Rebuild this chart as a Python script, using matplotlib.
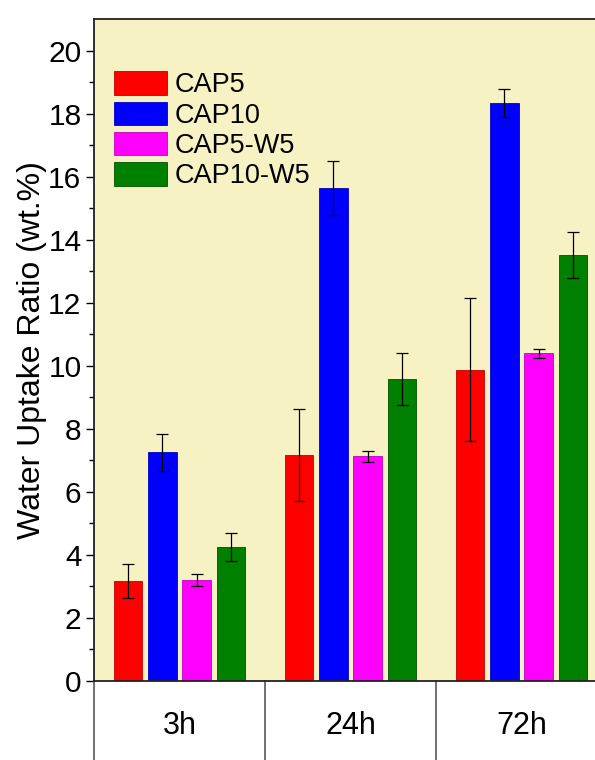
import numpy as np
import matplotlib
matplotlib.use("Agg")
import matplotlib.pyplot as plt
import matplotlib.transforms as mtransforms

plt.rcParams['font.family'] = ['Liberation Sans', 'DejaVu Sans']

# data
times = ["3h", "24h", "72h"]
series = ["CAP5", "CAP10", "CAP5-W5", "CAP10-W5"]
colors = ["#FF0000", "#0000FF", "#FF00FF", "#008000"]
edges = ["#C00000", "#0000C0", "#C000C0", "#005000"]
cap5 = [3.17, 7.17, 9.88]
cap10 = [7.25, 15.64, 18.34]
cap5_w5 = [3.21, 7.13, 10.39]
cap10_w5 = [4.25, 9.58, 13.51]
cap5_err = [0.54, 1.45, 2.27]
cap10_err = [0.58, 0.85, 0.44]
cap5_w5_err = [0.2, 0.17, 0.13]
cap10_w5_err = [0.45, 0.83, 0.73]

values = [cap5, cap10, cap5_w5, cap10_w5]
errors = [cap5_err, cap10_err, cap5_w5_err, cap10_w5_err]

fig = plt.figure(figsize=(5.95, 7.6), dpi=100)
ax = fig.add_axes([94 / 595, 79 / 760, 513 / 595, 662 / 760])
ax.set_facecolor("#F6F2C3")

x = np.arange(len(times))
width = 0.165
offsets = [-0.3, -0.1, 0.1, 0.3]
for vals, errs, name, c, ec, off in zip(values, errors, series, colors, edges, offsets):
    ax.bar(x + off, vals, width, color=c, edgecolor=ec, linewidth=0.6, label=name,
           yerr=errs, error_kw=dict(ecolor="black", elinewidth=0.9, capsize=4.5, capthick=0.9))

ax.set_xlim(-0.5, 2.5)
ax.set_ylim(0, 21)
ax.set_yticks(np.arange(0, 21, 2))
ax.set_yticks(np.arange(1, 21, 2), minor=True)
ax.tick_params(axis="y", which="major", direction="out", length=6, width=1, labelsize=21.5, pad=3)
ax.tick_params(axis="y", which="minor", direction="out", length=3.5, width=1)
ax.set_xticks([])
for s in ["left", "top", "bottom"]:
    ax.spines[s].set_color("#222222")
    ax.spines[s].set_linewidth(1.3)
ax.spines["right"].set_visible(False)

ax.set_ylabel("Water Uptake Ratio (wt.%)", fontsize=23, labelpad=1)

# category table under the axis
trans = mtransforms.blended_transform_factory(ax.transData, ax.transAxes)
for b in [-0.5, 0.5, 1.5]:
    ax.plot([b, b], [0, -0.13], transform=trans, color="#666666", lw=1.3, clip_on=False)
for xi, t in zip(x, times):
    ax.text(xi, -0.068, t, transform=trans, ha="center", va="center", fontsize=22)

ax.legend(loc="upper left", bbox_to_anchor=(0.039, 0.921), frameon=False, fontsize=19.5,
          handlelength=1.96, handleheight=0.96, labelspacing=0.12, handletextpad=0.27,
          borderpad=0, borderaxespad=0)

fig.savefig("out.png", dpi=100)
